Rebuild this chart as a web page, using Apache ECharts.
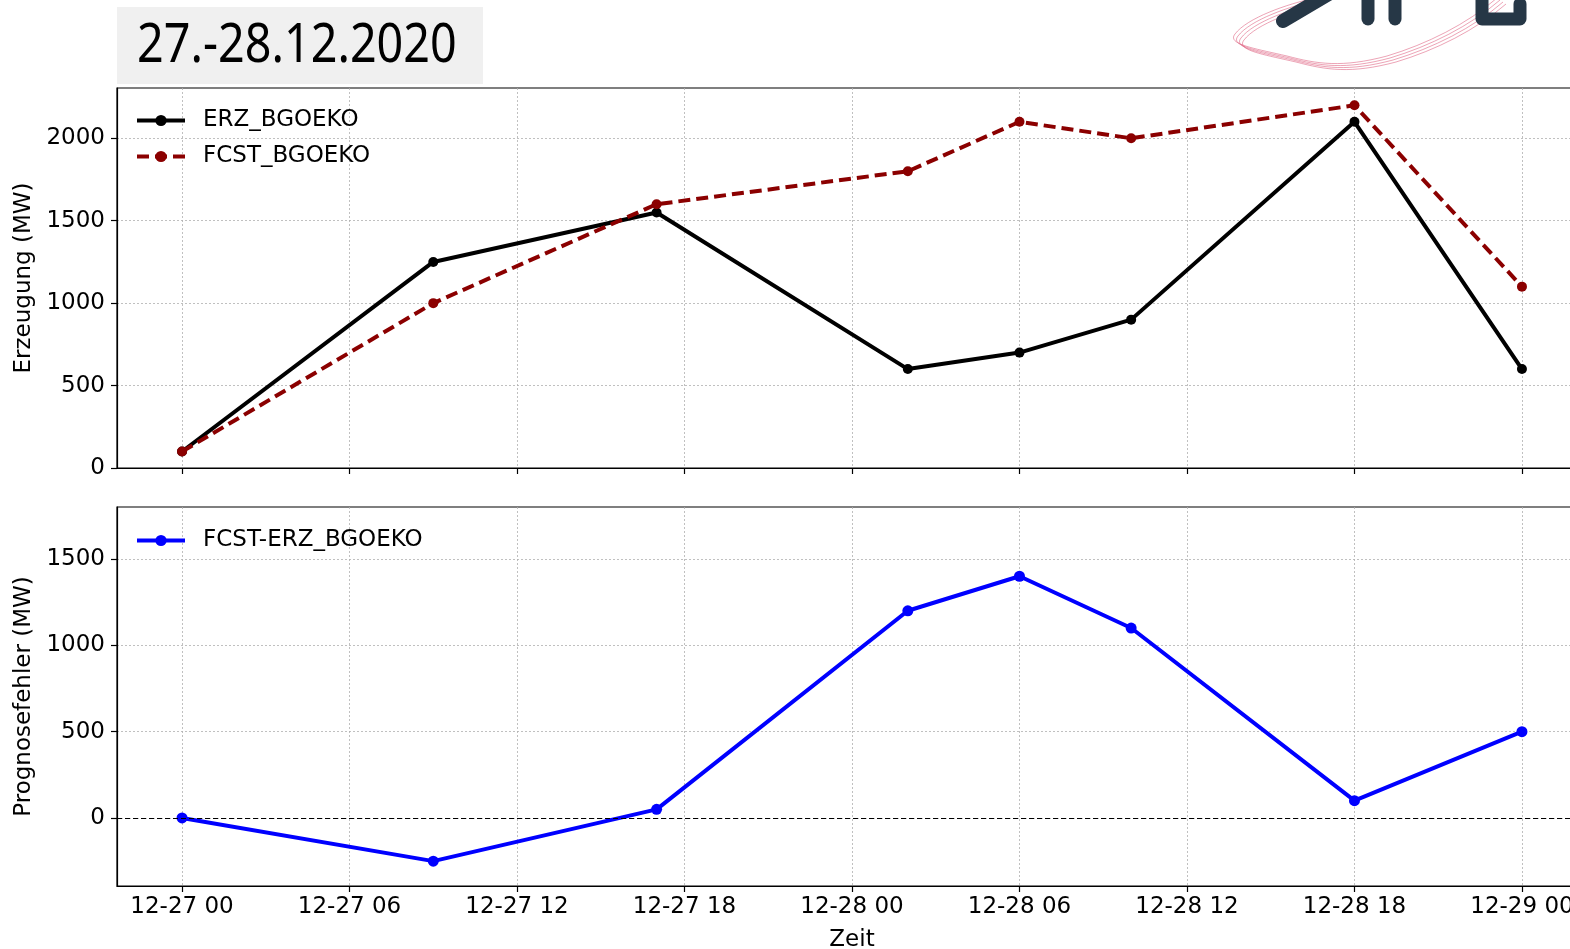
<!DOCTYPE html>
<html>
<head>
<meta charset="utf-8">
<script src="https://cdn.jsdelivr.net/npm/echarts@6/dist/echarts.min.js"></script>
<style>
  html, body { margin: 0; padding: 0; background: #fff; }
  #chart { width: 1570px; height: 949px; }
</style>
</head>
<body>
<div id="chart"></div>
<script>
// Sample times (local hour resolution)
var times = ['2020-12-27 00:00', '2020-12-27 09:00', '2020-12-27 17:00', '2020-12-28 02:00',
             '2020-12-28 06:00', '2020-12-28 10:00', '2020-12-28 18:00', '2020-12-29 00:00'];
// Measured generation (MW)
var erz = [100, 1250, 1550, 600, 700, 900, 2100, 600];
// Forecast generation (MW)
var fcst = [100, 1000, 1600, 1800, 2100, 2000, 2200, 1100];
// Forecast error FCST - ERZ (MW)
var fehler = [0, -250, 50, 1200, 1400, 1100, 100, 500];

// Time axis ticks
var tickTimes = ['2020-12-27 00:00', '2020-12-27 06:00', '2020-12-27 12:00', '2020-12-27 18:00',
                 '2020-12-28 00:00', '2020-12-28 06:00', '2020-12-28 12:00', '2020-12-28 18:00',
                 '2020-12-29 00:00'];
var tickLabels = ['12-27 00', '12-27 06', '12-27 12', '12-27 18', '12-28 00',
                  '12-28 06', '12-28 12', '12-28 18', '12-29 00'];
var upperTicks = [0, 500, 1000, 1500, 2000];
var lowerTicks = [0, 500, 1000, 1500];

function toMs(s) {
  var p = s.split(/[- :]/).map(Number);
  return Date.UTC(p[0], p[1] - 1, p[2], p[3], p[4]);
}
var t0 = toMs(times[0]);
function hoursOf(s) { return (toMs(s) - t0) / 3600000; }

var xh = times.map(hoursOf);
var tickHours = tickTimes.map(hoursOf);
function pairs(vals) { return vals.map(function (v, i) { return [xh[i], v]; }); }
function tickText(v) {
  var i = tickHours.indexOf(v);
  return i >= 0 ? tickLabels[i] : '';
}
function plain(v) { return String(v); }

var FONT = 'DejaVu Sans';
var FS = 23;
var gridLine = { show: true, lineStyle: { color: '#b0b0b0', type: [2, 2], width: 0.8 } };
var axisLine = { show: true, onZero: false, lineStyle: { color: '#000', width: 1.2 } };
var xMin = -2.33, xMax = 50.33;

var chart = echarts.init(document.getElementById('chart'), null, { renderer: 'canvas' });

// One swirl strand of the logo: a chain of cubic segments, shifted by (dx, dy)
var swirl = [
  [1318, 0, 1290, 6, 1250, 20, 1238, 36],
  [1238, 36, 1230, 46, 1255, 50, 1290, 58],
  [1290, 58, 1320, 66, 1345, 70, 1390, 58],
  [1390, 58, 1430, 46, 1470, 26, 1500, 0]
];
function strand(dx, dy) {
  return swirl.map(function (s) {
    return {
      type: 'bezierCurve', silent: true,
      shape: { x1: s[0] + dx, y1: s[1] + dy, cpx1: s[2] + dx, cpy1: s[3] + dy,
               cpx2: s[4] + dx, cpy2: s[5] + dy, x2: s[6] + dx, y2: s[7] + dy },
      style: { fill: null, stroke: '#d9466b', lineWidth: 0.9, opacity: 0.55 }
    };
  });
}
function stroke(points, w) {
  return { type: 'polyline', silent: true, shape: { points: points },
           style: { stroke: '#263746', lineWidth: w, lineCap: 'round', lineJoin: 'round', fill: null } };
}

var graphics = [
  // date caption box
  { type: 'rect', silent: true, shape: { x: 117, y: 7, width: 366, height: 77 }, style: { fill: '#f0f0f0' } },
  { type: 'text', silent: true, x: 137, y: 47, scaleX: 0.865,
    style: { text: '27.-28.12.2020', fontFamily: 'Noto Sans', fontSize: 54, fill: '#000',
             textAlign: 'left', textVerticalAlign: 'middle' } }
]
  .concat(strand(0, 0), strand(3, 2), strand(6, 4), strand(-3, -2))
  .concat([
    stroke([[1283, 21], [1332, -8]], 14),
    stroke([[1368, -10], [1368, 19]], 13),
    stroke([[1395, -10], [1395, 19]], 13),
    stroke([[1482, -10], [1482, 19], [1520, 19], [1520, 4]], 13)
  ]);

var legendText = { fontFamily: FONT, fontSize: FS, color: '#000', padding: [0, 0, 0, 13] };

var option = {
  backgroundColor: '#ffffff',
  animation: false,
  textStyle: { fontFamily: FONT },
  grid: [
    { left: 117, width: 1470, top: 88, height: 380, outerBoundsMode: 'none', containLabel: false,
      show: true, borderColor: '#000', borderWidth: 1.2, backgroundColor: 'transparent' },
    { left: 117, width: 1470, top: 507, height: 379, outerBoundsMode: 'none', containLabel: false,
      show: true, borderColor: '#000', borderWidth: 1.2, backgroundColor: 'transparent' }
  ],
  legend: [
    {
      data: ['ERZ_BGOEKO', 'FCST_BGOEKO'],
      orient: 'vertical', left: 135, top: 109, padding: 0,
      itemWidth: 48, itemHeight: 14, itemGap: 13,
      lineStyle: { width: 4 },
      textStyle: legendText
    },
    {
      data: ['FCST-ERZ_BGOEKO'],
      orient: 'vertical', left: 135, top: 529, padding: 0,
      itemWidth: 48, itemHeight: 14,
      lineStyle: { width: 4 },
      textStyle: legendText
    }
  ],
  xAxis: [
    {
      gridIndex: 0, type: 'value', min: xMin, max: xMax,
      axisLine: axisLine,
      axisTick: { show: true, length: 6, customValues: tickHours, lineStyle: { color: '#000', width: 1.2 } },
      axisLabel: { show: false, customValues: tickHours },
      splitLine: gridLine
    },
    {
      gridIndex: 1, type: 'value', min: xMin, max: xMax,
      name: 'Zeit', nameLocation: 'middle', nameGap: 43,
      nameTextStyle: { fontFamily: FONT, fontSize: FS, color: '#000' },
      axisLine: axisLine,
      axisTick: { show: true, length: 6, customValues: tickHours, lineStyle: { color: '#000', width: 1.2 } },
      axisLabel: { show: true, customValues: tickHours, margin: 10, fontFamily: FONT, fontSize: FS, color: '#000',
                   formatter: tickText },
      splitLine: gridLine
    }
  ],
  yAxis: [
    {
      gridIndex: 0, type: 'value', min: 0, max: 2305,
      name: 'Erzeugung (MW)', nameLocation: 'middle', nameGap: 76,
      nameTextStyle: { fontFamily: FONT, fontSize: FS, color: '#000' },
      axisLine: axisLine,
      axisTick: { show: true, length: 6, customValues: upperTicks, lineStyle: { color: '#000', width: 1.2 } },
      axisLabel: { customValues: upperTicks, margin: 12, fontFamily: FONT, fontSize: FS, color: '#000', formatter: plain },
      splitLine: gridLine
    },
    {
      gridIndex: 1, type: 'value', min: -394, max: 1801,
      name: 'Prognosefehler (MW)', nameLocation: 'middle', nameGap: 76,
      nameTextStyle: { fontFamily: FONT, fontSize: FS, color: '#000' },
      axisLine: axisLine,
      axisTick: { show: true, length: 6, customValues: lowerTicks, lineStyle: { color: '#000', width: 1.2 } },
      axisLabel: { customValues: lowerTicks, margin: 12, fontFamily: FONT, fontSize: FS, color: '#000', formatter: plain },
      splitLine: gridLine
    }
  ],
  series: [
    {
      name: 'ERZ_BGOEKO', type: 'line', xAxisIndex: 0, yAxisIndex: 0,
      data: pairs(erz), symbol: 'circle', symbolSize: 10,
      lineStyle: { color: '#000000', width: 4 }, itemStyle: { color: '#000000' },
      z: 3
    },
    {
      name: 'FCST_BGOEKO', type: 'line', xAxisIndex: 0, yAxisIndex: 0,
      data: pairs(fcst), symbol: 'circle', symbolSize: 10,
      lineStyle: { color: '#8b0000', width: 4, type: [12, 6] }, itemStyle: { color: '#8b0000' },
      z: 4
    },
    {
      name: 'FCST-ERZ_BGOEKO', type: 'line', xAxisIndex: 1, yAxisIndex: 1,
      data: pairs(fehler), symbol: 'circle', symbolSize: 11,
      lineStyle: { color: '#0000ff', width: 4 }, itemStyle: { color: '#0000ff' },
      z: 4,
      markLine: {
        silent: true, symbol: 'none', animation: false,
        label: { show: false },
        lineStyle: { color: '#000', type: [5, 3], width: 1.2 },
        data: [{ yAxis: 0 }]
      }
    }
  ],
  graphic: graphics
};

chart.setOption(option);
</script>
</body>
</html>
